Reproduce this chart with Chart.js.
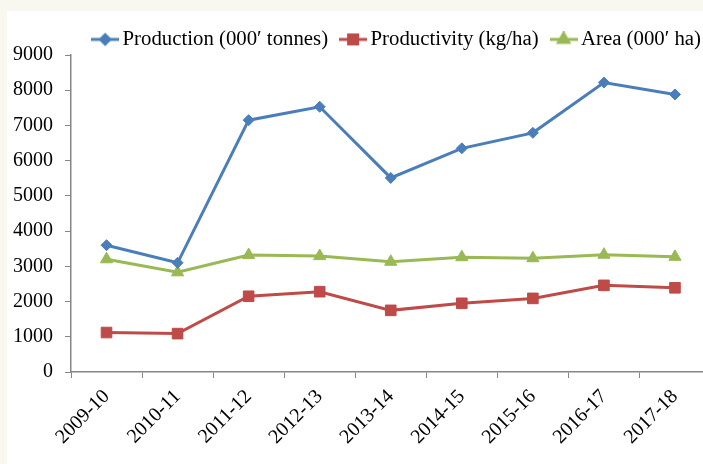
<!DOCTYPE html>
<html>
<head>
<meta charset="utf-8">
<script src="https://cdn.jsdelivr.net/npm/chart.js@4/dist/chart.umd.min.js"></script>
<style>
html,body{margin:0;padding:0;background:#f8f8f0;overflow:hidden;width:703px;height:464px;}
#wrap{position:absolute;left:7px;top:11px;width:712px;height:453px;background:#fff;}
</style>
</head>
<body>
<div id="wrap"><canvas id="chart" width="712" height="453"></canvas></div>
<script>
// data
var years = ['2009-10','2010-11','2011-12','2012-13','2013-14','2014-15','2015-16','2016-17','2017-18'];
var production = [3600, 3100, 7150, 7530, 5510, 6350, 6790, 8220, 7880];
var productivity = [1120, 1090, 2150, 2280, 1750, 1950, 2090, 2460, 2390];
var area = [3200, 2830, 3320, 3290, 3130, 3260, 3230, 3330, 3270];
var seriesNames = ['Production (000\u2032 tonnes)', 'Productivity (kg/ha)', 'Area (000\u2032 ha)'];
var yMin = 0, yMax = 9000, yStep = 1000;

var colors = ['#4a7ebb', '#be4b48', '#98b954'];
var markers = ['rectRot', 'rect', 'triangle'];
var radii = [5.5, 7.5, 7];
var axisColor = '#868686';
var font = "'Liberation Serif', 'Times New Roman', serif";

// legend icon: short line with the marker in the middle
function makeIcon(i) {
	var c = document.createElement('canvas');
	c.width = 28; c.height = 16;
	var ctx = c.getContext('2d');
	ctx.strokeStyle = colors[i];
	ctx.lineWidth = 3;
	ctx.beginPath();
	ctx.moveTo(0, 8); ctx.lineTo(28, 8);
	ctx.stroke();
	ctx.fillStyle = colors[i];
	Chart.helpers.drawPoint(ctx, {pointStyle: markers[i], radius: radii[i] * 0.85, rotation: 0, borderWidth: 1}, 14, 8);
	return c;
}

var values = [production, productivity, area];
var datasets = [];
for (var i = 0; i < values.length; i++) {
	datasets.push({
		label: seriesNames[i],
		data: values[i],
		borderColor: colors[i],
		backgroundColor: colors[i],
		borderWidth: 3,
		pointStyle: markers[i],
		pointRadius: radii[i],
		pointHoverRadius: radii[i],
		pointBorderWidth: 1,
		tension: 0
	});
}

var icons = [makeIcon(0), makeIcon(1), makeIcon(2)];

new Chart(document.getElementById('chart').getContext('2d'), {
	type: 'line',
	data: {labels: years, datasets: datasets},
	options: {
		responsive: false,
		animation: false,
		layout: {padding: 0},
		plugins: {
			tooltip: {enabled: false},
			legend: {
				position: 'top',
				align: 'end',
				maxHeight: 44,
				labels: {
					usePointStyle: true,
					pointStyleWidth: 14,
					padding: 18,
					color: '#000',
					font: {family: font, size: 20.8},
					generateLabels: function(chart) {
						var items = Chart.defaults.plugins.legend.labels.generateLabels(chart);
						items.forEach(function(it, k){ it.pointStyle = icons[k]; });
						return items;
					}
				}
			}
		},
		scales: {
			x: {
				offset: true,
				grid: {display: true, drawOnChartArea: false, offset: true, color: axisColor, tickLength: 6},
				border: {color: axisColor, width: 1.5},
				ticks: {color: '#000', font: {family: font, size: 20}, minRotation: 45, maxRotation: 45, padding: 7},
				afterFit: function(scale){ scale.height = 92; }
			},
			y: {
				min: yMin,
				max: yMax,
				grid: {display: true, drawOnChartArea: false, color: axisColor, tickLength: 6},
				border: {color: axisColor, width: 1.5},
				ticks: {
					stepSize: yStep, color: '#000', font: {family: font, size: 20}, padding: 12,
					callback: function(v){ return String(v); }
				},
				afterFit: function(scale){ scale.width = 64; }
			}
		}
	}
});
</script>
</body>
</html>
